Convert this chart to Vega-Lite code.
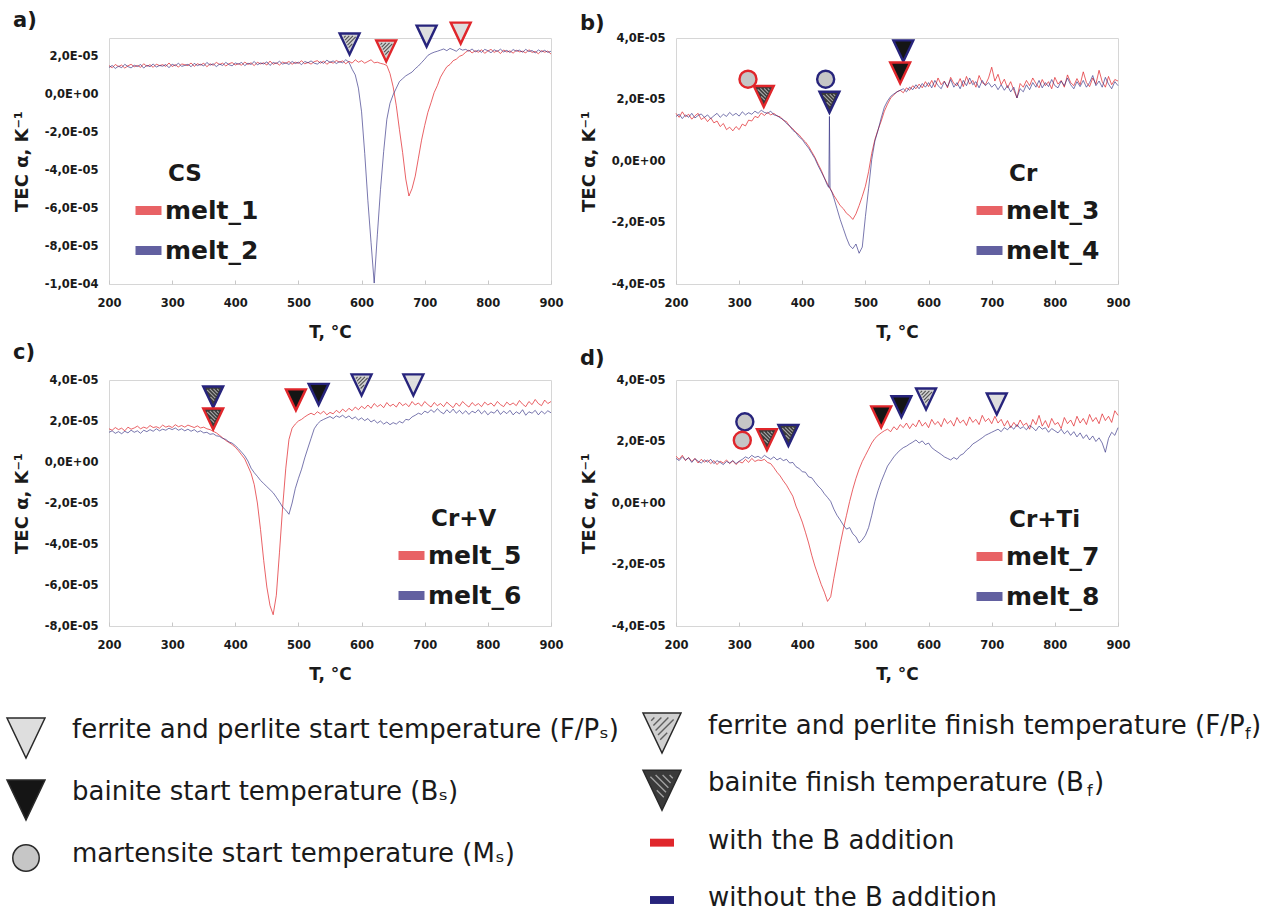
{
"$schema": "https://vega.github.io/schema/vega-lite/v6.json",
"padding": {"left": 4, "top": 9, "right": 0, "bottom": 0},
"background": "white",
"config": {
 "font": "DejaVu Sans",
 "view": {"stroke": "#d6d6d6", "strokeWidth": 1},
 "axis": {"grid": false, "domain": false, "labelFont": "DejaVu Sans", "labelFontSize": 11.5, "labelFontWeight": "bold", "labelColor": "#1a1a1a", "titleFont": "DejaVu Sans", "titleFontWeight": "bold", "titleColor": "#1a1a1a"},
 "axisY": {"ticks": false, "labelPadding": 11, "minExtent": 64, "maxExtent": 64, "titlePadding": 14, "titleFontSize": 18},
 "axisX": {"ticks": true, "tickSize": -4, "tickColor": "#c8c8c8", "labelFlush": false, "labelPadding": 17, "minExtent": 24, "maxExtent": 24, "titlePadding": 16, "titleFontSize": 17},
 "title": {"font": "DejaVu Sans", "fontSize": 21, "fontWeight": "bold", "anchor": "start", "frame": "bounds", "color": "#1a1a1a", "offset": 4},
 "legend": {"orient": "none", "titleFont": "DejaVu Sans", "titleFontSize": 23, "titleFontWeight": "bold", "titleColor": "#1a1a1a", "titlePadding": 7, "labelFont": "DejaVu Sans", "labelFontSize": 25, "labelFontWeight": "bold", "labelColor": "#1a1a1a", "symbolType": "stroke", "symbolSize": 676, "symbolStrokeWidth": 9, "labelOffset": -1, "symbolOffset": -37, "rowPadding": 3}
},
"datasets": {
"melt_1": [{"T":200,"v":1.54e-5},{"T":205,"v":1.43e-5},{"T":210,"v":1.60e-5},{"T":215,"v":1.49e-5},{"T":220,"v":1.57e-5},{"T":225,"v":1.41e-5},{"T":230,"v":1.53e-5},{"T":235,"v":1.61e-5},{"T":240,"v":1.48e-5},{"T":245,"v":1.55e-5},{"T":250,"v":1.45e-5},{"T":255,"v":1.64e-5},{"T":260,"v":1.50e-5},{"T":265,"v":1.59e-5},{"T":270,"v":1.45e-5},{"T":275,"v":1.62e-5},{"T":280,"v":1.54e-5},{"T":285,"v":1.59e-5},{"T":290,"v":1.50e-5},{"T":295,"v":1.68e-5},{"T":300,"v":1.49e-5},{"T":305,"v":1.59e-5},{"T":310,"v":1.46e-5},{"T":315,"v":1.63e-5},{"T":320,"v":1.59e-5},{"T":325,"v":1.54e-5},{"T":330,"v":1.68e-5},{"T":335,"v":1.50e-5},{"T":340,"v":1.64e-5},{"T":345,"v":1.57e-5},{"T":350,"v":1.67e-5},{"T":355,"v":1.48e-5},{"T":360,"v":1.64e-5},{"T":365,"v":1.56e-5},{"T":370,"v":1.71e-5},{"T":375,"v":1.60e-5},{"T":380,"v":1.67e-5},{"T":385,"v":1.52e-5},{"T":390,"v":1.64e-5},{"T":395,"v":1.70e-5},{"T":400,"v":1.57e-5},{"T":405,"v":1.64e-5},{"T":410,"v":1.56e-5},{"T":415,"v":1.73e-5},{"T":420,"v":1.60e-5},{"T":425,"v":1.69e-5},{"T":430,"v":1.54e-5},{"T":435,"v":1.72e-5},{"T":440,"v":1.63e-5},{"T":445,"v":1.69e-5},{"T":450,"v":1.57e-5},{"T":455,"v":1.78e-5},{"T":460,"v":1.61e-5},{"T":465,"v":1.69e-5},{"T":470,"v":1.57e-5},{"T":475,"v":1.73e-5},{"T":480,"v":1.66e-5},{"T":485,"v":1.76e-5},{"T":490,"v":1.61e-5},{"T":495,"v":1.72e-5},{"T":500,"v":1.66e-5},{"T":505,"v":1.80e-5},{"T":510,"v":1.63e-5},{"T":515,"v":1.71e-5},{"T":520,"v":1.62e-5},{"T":525,"v":1.75e-5},{"T":530,"v":1.80e-5},{"T":535,"v":1.67e-5},{"T":540,"v":1.78e-5},{"T":545,"v":1.61e-5},{"T":550,"v":1.74e-5},{"T":555,"v":1.67e-5},{"T":560,"v":1.81e-5},{"T":565,"v":1.72e-5},{"T":570,"v":1.79e-5},{"T":575,"v":1.64e-5},{"T":580,"v":1.77e-5},{"T":585,"v":1.67e-5},{"T":590,"v":1.85e-5},{"T":595,"v":1.72e-5},{"T":600,"v":1.80e-5},{"T":605,"v":1.67e-5},{"T":610,"v":1.76e-5},{"T":615,"v":1.85e-5},{"T":620,"v":1.69e-5},{"T":625,"v":1.72e-5},{"T":630,"v":1.66e-5},{"T":635,"v":1.62e-5},{"T":640,"v":1.55e-5},{"T":645,"v":1.12e-5},{"T":650,"v":0.42e-5},{"T":655,"v":-0.58e-5},{"T":660,"v":-1.85e-5},{"T":665,"v":-3.05e-5},{"T":670,"v":-4.45e-5},{"T":675,"v":-5.35e-5},{"T":680,"v":-4.95e-5},{"T":685,"v":-4.3e-5},{"T":690,"v":-3.35e-5},{"T":695,"v":-2.4e-5},{"T":700,"v":-1.62e-5},{"T":705,"v":-0.93e-5},{"T":710,"v":-0.42e-5},{"T":715,"v":0.12e-5},{"T":720,"v":0.48e-5},{"T":725,"v":0.93e-5},{"T":730,"v":1.22e-5},{"T":735,"v":1.48e-5},{"T":740,"v":1.6e-5},{"T":745,"v":1.8e-5},{"T":750,"v":1.88e-5},{"T":755,"v":2.03e-5},{"T":760,"v":2.1e-5},{"T":765,"v":2.25e-5},{"T":770,"v":2.36e-5},{"T":775,"v":2.21e-5},{"T":780,"v":2.33e-5},{"T":785,"v":2.25e-5},{"T":790,"v":2.38e-5},{"T":795,"v":2.19e-5},{"T":800,"v":2.31e-5},{"T":805,"v":2.40e-5},{"T":810,"v":2.24e-5},{"T":815,"v":2.33e-5},{"T":820,"v":2.18e-5},{"T":825,"v":2.37e-5},{"T":830,"v":2.26e-5},{"T":835,"v":2.32e-5},{"T":840,"v":2.20e-5},{"T":845,"v":2.35e-5},{"T":850,"v":2.27e-5},{"T":855,"v":2.30e-5},{"T":860,"v":2.21e-5},{"T":865,"v":2.38e-5},{"T":870,"v":2.24e-5},{"T":875,"v":2.29e-5},{"T":880,"v":2.17e-5},{"T":885,"v":2.33e-5},{"T":890,"v":2.25e-5},{"T":895,"v":2.31e-5},{"T":900,"v":2.15e-5}],
"melt_2": [{"T":200,"v":1.44e-5},{"T":205,"v":1.55e-5},{"T":210,"v":1.39e-5},{"T":215,"v":1.51e-5},{"T":220,"v":1.43e-5},{"T":225,"v":1.61e-5},{"T":230,"v":1.49e-5},{"T":235,"v":1.42e-5},{"T":240,"v":1.56e-5},{"T":245,"v":1.49e-5},{"T":250,"v":1.60e-5},{"T":255,"v":1.41e-5},{"T":260,"v":1.56e-5},{"T":265,"v":1.48e-5},{"T":270,"v":1.63e-5},{"T":275,"v":1.46e-5},{"T":280,"v":1.55e-5},{"T":285,"v":1.51e-5},{"T":290,"v":1.60e-5},{"T":295,"v":1.43e-5},{"T":300,"v":1.62e-5},{"T":305,"v":1.53e-5},{"T":310,"v":1.67e-5},{"T":315,"v":1.50e-5},{"T":320,"v":1.55e-5},{"T":325,"v":1.61e-5},{"T":330,"v":1.48e-5},{"T":335,"v":1.66e-5},{"T":340,"v":1.54e-5},{"T":345,"v":1.61e-5},{"T":350,"v":1.52e-5},{"T":355,"v":1.71e-5},{"T":360,"v":1.56e-5},{"T":365,"v":1.64e-5},{"T":370,"v":1.49e-5},{"T":375,"v":1.62e-5},{"T":380,"v":1.55e-5},{"T":385,"v":1.71e-5},{"T":390,"v":1.59e-5},{"T":395,"v":1.53e-5},{"T":400,"v":1.68e-5},{"T":405,"v":1.62e-5},{"T":410,"v":1.71e-5},{"T":415,"v":1.54e-5},{"T":420,"v":1.67e-5},{"T":425,"v":1.60e-5},{"T":430,"v":1.76e-5},{"T":435,"v":1.58e-5},{"T":440,"v":1.68e-5},{"T":445,"v":1.63e-5},{"T":450,"v":1.74e-5},{"T":455,"v":1.55e-5},{"T":460,"v":1.71e-5},{"T":465,"v":1.65e-5},{"T":470,"v":1.77e-5},{"T":475,"v":1.62e-5},{"T":480,"v":1.69e-5},{"T":485,"v":1.60e-5},{"T":490,"v":1.76e-5},{"T":495,"v":1.65e-5},{"T":500,"v":1.72e-5},{"T":505,"v":1.59e-5},{"T":510,"v":1.76e-5},{"T":515,"v":1.69e-5},{"T":520,"v":1.79e-5},{"T":525,"v":1.67e-5},{"T":530,"v":1.62e-5},{"T":535,"v":1.75e-5},{"T":540,"v":1.66e-5},{"T":545,"v":1.83e-5},{"T":550,"v":1.71e-5},{"T":555,"v":1.79e-5},{"T":560,"v":1.65e-5},{"T":565,"v":1.75e-5},{"T":570,"v":1.69e-5},{"T":575,"v":1.85e-5},{"T":580,"v":1.72e-5},{"T":585,"v":1.35e-5},{"T":590,"v":1.05e-5},{"T":595,"v":0.35e-5},{"T":600,"v":-0.9e-5},{"T":605,"v":-3.1e-5},{"T":610,"v":-5.6e-5},{"T":615,"v":-7.8e-5},{"T":620,"v":-9.95e-5},{"T":625,"v":-7.4e-5},{"T":630,"v":-5.0e-5},{"T":635,"v":-3.0e-5},{"T":640,"v":-1.3e-5},{"T":645,"v":-0.45e-5},{"T":650,"v":0.0},{"T":655,"v":0.35e-5},{"T":660,"v":0.7e-5},{"T":665,"v":0.85e-5},{"T":670,"v":1.0e-5},{"T":675,"v":1.1e-5},{"T":680,"v":1.2e-5},{"T":685,"v":1.38e-5},{"T":690,"v":1.52e-5},{"T":695,"v":1.70e-5},{"T":700,"v":1.88e-5},{"T":705,"v":2.08e-5},{"T":710,"v":2.18e-5},{"T":715,"v":2.25e-5},{"T":720,"v":2.30e-5},{"T":725,"v":2.36e-5},{"T":730,"v":2.42e-5},{"T":735,"v":2.33e-5},{"T":740,"v":2.45e-5},{"T":745,"v":2.38e-5},{"T":750,"v":2.30e-5},{"T":755,"v":2.44e-5},{"T":760,"v":2.36e-5},{"T":765,"v":2.40e-5},{"T":770,"v":2.30e-5},{"T":775,"v":2.42e-5},{"T":780,"v":2.27e-5},{"T":785,"v":2.36e-5},{"T":790,"v":2.24e-5},{"T":795,"v":2.40e-5},{"T":800,"v":2.33e-5},{"T":805,"v":2.22e-5},{"T":810,"v":2.38e-5},{"T":815,"v":2.29e-5},{"T":820,"v":2.41e-5},{"T":825,"v":2.26e-5},{"T":830,"v":2.35e-5},{"T":835,"v":2.23e-5},{"T":840,"v":2.39e-5},{"T":845,"v":2.30e-5},{"T":850,"v":2.36e-5},{"T":855,"v":2.25e-5},{"T":860,"v":2.40e-5},{"T":865,"v":2.28e-5},{"T":870,"v":2.34e-5},{"T":875,"v":2.21e-5},{"T":880,"v":2.37e-5},{"T":885,"v":2.27e-5},{"T":890,"v":2.35e-5},{"T":895,"v":2.24e-5},{"T":900,"v":2.30e-5}],
"melt_3": [{"T":200,"v":1.55e-5},{"T":205,"v":1.42e-5},{"T":210,"v":1.60e-5},{"T":215,"v":1.44e-5},{"T":220,"v":1.52e-5},{"T":225,"v":1.36e-5},{"T":230,"v":1.47e-5},{"T":235,"v":1.55e-5},{"T":240,"v":1.35e-5},{"T":245,"v":1.42e-5},{"T":250,"v":1.28e-5},{"T":255,"v":1.40e-5},{"T":260,"v":1.24e-5},{"T":265,"v":1.30e-5},{"T":270,"v":1.12e-5},{"T":275,"v":1.22e-5},{"T":280,"v":1.02e-5},{"T":285,"v":1.10e-5},{"T":290,"v":0.98e-5},{"T":295,"v":1.12e-5},{"T":300,"v":1.02e-5},{"T":305,"v":1.20e-5},{"T":310,"v":1.14e-5},{"T":315,"v":1.33e-5},{"T":320,"v":1.30e-5},{"T":325,"v":1.45e-5},{"T":330,"v":1.41e-5},{"T":335,"v":1.56e-5},{"T":340,"v":1.48e-5},{"T":345,"v":1.58e-5},{"T":350,"v":1.50e-5},{"T":355,"v":1.55e-5},{"T":360,"v":1.46e-5},{"T":365,"v":1.44e-5},{"T":370,"v":1.32e-5},{"T":375,"v":1.28e-5},{"T":380,"v":1.12e-5},{"T":385,"v":1.05e-5},{"T":390,"v":0.93e-5},{"T":395,"v":0.85e-5},{"T":400,"v":0.72e-5},{"T":405,"v":0.62e-5},{"T":410,"v":0.48e-5},{"T":415,"v":0.30e-5},{"T":420,"v":0.12e-5},{"T":425,"v":-0.10e-5},{"T":430,"v":-0.30e-5},{"T":435,"v":-0.55e-5},{"T":440,"v":-0.75e-5},{"T":445,"v":-0.92e-5},{"T":450,"v":-1.12e-5},{"T":455,"v":-1.28e-5},{"T":460,"v":-1.45e-5},{"T":465,"v":-1.55e-5},{"T":470,"v":-1.70e-5},{"T":475,"v":-1.78e-5},{"T":480,"v":-1.90e-5},{"T":485,"v":-1.72e-5},{"T":490,"v":-1.45e-5},{"T":495,"v":-1.15e-5},{"T":500,"v":-0.82e-5},{"T":505,"v":-0.35e-5},{"T":510,"v":0.25e-5},{"T":515,"v":0.70e-5},{"T":520,"v":1.02e-5},{"T":525,"v":1.30e-5},{"T":530,"v":1.62e-5},{"T":535,"v":1.85e-5},{"T":540,"v":2.05e-5},{"T":545,"v":2.15e-5},{"T":550,"v":2.25e-5},{"T":555,"v":2.30e-5},{"T":560,"v":2.22e-5},{"T":565,"v":2.38e-5},{"T":570,"v":2.30e-5},{"T":575,"v":2.45e-5},{"T":580,"v":2.35e-5},{"T":585,"v":2.50e-5},{"T":590,"v":2.38e-5},{"T":595,"v":2.58e-5},{"T":600,"v":2.42e-5},{"T":605,"v":2.62e-5},{"T":610,"v":2.40e-5},{"T":615,"v":2.70e-5},{"T":620,"v":2.48e-5},{"T":625,"v":2.60e-5},{"T":630,"v":2.38e-5},{"T":635,"v":2.72e-5},{"T":640,"v":2.52e-5},{"T":645,"v":2.45e-5},{"T":650,"v":2.68e-5},{"T":655,"v":2.42e-5},{"T":660,"v":2.75e-5},{"T":665,"v":2.50e-5},{"T":670,"v":2.62e-5},{"T":675,"v":2.40e-5},{"T":680,"v":2.78e-5},{"T":685,"v":2.55e-5},{"T":690,"v":2.48e-5},{"T":695,"v":2.70e-5},{"T":700,"v":3.05e-5},{"T":705,"v":2.60e-5},{"T":710,"v":2.82e-5},{"T":715,"v":2.48e-5},{"T":720,"v":2.66e-5},{"T":725,"v":2.38e-5},{"T":730,"v":2.58e-5},{"T":735,"v":2.30e-5},{"T":740,"v":2.05e-5},{"T":745,"v":2.52e-5},{"T":750,"v":2.40e-5},{"T":755,"v":2.62e-5},{"T":760,"v":2.45e-5},{"T":765,"v":2.70e-5},{"T":770,"v":2.52e-5},{"T":775,"v":2.38e-5},{"T":780,"v":2.65e-5},{"T":785,"v":2.45e-5},{"T":790,"v":2.58e-5},{"T":795,"v":2.35e-5},{"T":800,"v":2.72e-5},{"T":805,"v":2.50e-5},{"T":810,"v":2.62e-5},{"T":815,"v":2.40e-5},{"T":820,"v":2.80e-5},{"T":825,"v":2.55e-5},{"T":830,"v":2.45e-5},{"T":835,"v":2.68e-5},{"T":840,"v":2.48e-5},{"T":845,"v":2.90e-5},{"T":850,"v":2.55e-5},{"T":855,"v":2.42e-5},{"T":860,"v":2.70e-5},{"T":865,"v":2.50e-5},{"T":870,"v":2.95e-5},{"T":875,"v":2.58e-5},{"T":880,"v":2.40e-5},{"T":885,"v":2.75e-5},{"T":890,"v":2.48e-5},{"T":895,"v":2.65e-5},{"T":900,"v":2.60e-5}],
"melt_4": [{"T":200,"v":1.45e-5},{"T":205,"v":1.52e-5},{"T":210,"v":1.38e-5},{"T":215,"v":1.50e-5},{"T":220,"v":1.42e-5},{"T":225,"v":1.55e-5},{"T":230,"v":1.40e-5},{"T":235,"v":1.48e-5},{"T":240,"v":1.53e-5},{"T":245,"v":1.42e-5},{"T":250,"v":1.50e-5},{"T":255,"v":1.38e-5},{"T":260,"v":1.47e-5},{"T":265,"v":1.55e-5},{"T":270,"v":1.42e-5},{"T":275,"v":1.52e-5},{"T":280,"v":1.45e-5},{"T":285,"v":1.58e-5},{"T":290,"v":1.48e-5},{"T":295,"v":1.55e-5},{"T":300,"v":1.46e-5},{"T":305,"v":1.60e-5},{"T":310,"v":1.50e-5},{"T":315,"v":1.57e-5},{"T":320,"v":1.52e-5},{"T":325,"v":1.62e-5},{"T":330,"v":1.55e-5},{"T":335,"v":1.65e-5},{"T":340,"v":1.58e-5},{"T":345,"v":1.55e-5},{"T":350,"v":1.62e-5},{"T":355,"v":1.50e-5},{"T":360,"v":1.48e-5},{"T":365,"v":1.40e-5},{"T":370,"v":1.35e-5},{"T":375,"v":1.22e-5},{"T":380,"v":1.15e-5},{"T":385,"v":1.00e-5},{"T":390,"v":0.92e-5},{"T":395,"v":0.78e-5},{"T":400,"v":0.70e-5},{"T":405,"v":0.55e-5},{"T":410,"v":0.42e-5},{"T":415,"v":0.25e-5},{"T":420,"v":0.08e-5},{"T":425,"v":-0.15e-5},{"T":430,"v":-0.35e-5},{"T":435,"v":-0.55e-5},{"T":440,"v":-0.80e-5},{"T":442,"v":-0.86e-5},{"T":443,"v":1.45e-5},{"T":444,"v":-0.90e-5},{"T":447,"v":-1.02e-5},{"T":450,"v":-1.20e-5},{"T":455,"v":-1.55e-5},{"T":460,"v":-1.90e-5},{"T":465,"v":-2.20e-5},{"T":470,"v":-2.50e-5},{"T":475,"v":-2.75e-5},{"T":480,"v":-2.85e-5},{"T":485,"v":-2.70e-5},{"T":490,"v":-3.00e-5},{"T":495,"v":-2.80e-5},{"T":500,"v":-1.80e-5},{"T":505,"v":-0.90e-5},{"T":510,"v":0.05e-5},{"T":515,"v":0.65e-5},{"T":520,"v":1.00e-5},{"T":525,"v":1.40e-5},{"T":530,"v":1.75e-5},{"T":535,"v":1.95e-5},{"T":540,"v":2.10e-5},{"T":545,"v":2.18e-5},{"T":550,"v":2.25e-5},{"T":555,"v":2.30e-5},{"T":560,"v":2.35e-5},{"T":565,"v":2.25e-5},{"T":570,"v":2.40e-5},{"T":575,"v":2.32e-5},{"T":580,"v":2.48e-5},{"T":585,"v":2.35e-5},{"T":590,"v":2.52e-5},{"T":595,"v":2.40e-5},{"T":600,"v":2.55e-5},{"T":605,"v":2.38e-5},{"T":610,"v":2.62e-5},{"T":615,"v":2.45e-5},{"T":620,"v":2.35e-5},{"T":625,"v":2.58e-5},{"T":630,"v":2.42e-5},{"T":635,"v":2.65e-5},{"T":640,"v":2.40e-5},{"T":645,"v":2.55e-5},{"T":650,"v":2.35e-5},{"T":655,"v":2.62e-5},{"T":660,"v":2.45e-5},{"T":665,"v":2.70e-5},{"T":670,"v":2.48e-5},{"T":675,"v":2.58e-5},{"T":680,"v":2.38e-5},{"T":685,"v":2.62e-5},{"T":690,"v":2.45e-5},{"T":695,"v":2.55e-5},{"T":700,"v":2.40e-5},{"T":705,"v":2.50e-5},{"T":710,"v":2.32e-5},{"T":715,"v":2.48e-5},{"T":720,"v":2.30e-5},{"T":725,"v":2.45e-5},{"T":730,"v":2.25e-5},{"T":735,"v":2.40e-5},{"T":740,"v":2.05e-5},{"T":745,"v":2.35e-5},{"T":750,"v":2.25e-5},{"T":755,"v":2.48e-5},{"T":760,"v":2.32e-5},{"T":765,"v":2.55e-5},{"T":770,"v":2.40e-5},{"T":775,"v":2.62e-5},{"T":780,"v":2.38e-5},{"T":785,"v":2.55e-5},{"T":790,"v":2.42e-5},{"T":795,"v":2.65e-5},{"T":800,"v":2.45e-5},{"T":805,"v":2.38e-5},{"T":810,"v":2.60e-5},{"T":815,"v":2.45e-5},{"T":820,"v":2.70e-5},{"T":825,"v":2.48e-5},{"T":830,"v":2.35e-5},{"T":835,"v":2.58e-5},{"T":840,"v":2.42e-5},{"T":845,"v":2.62e-5},{"T":850,"v":2.40e-5},{"T":855,"v":2.55e-5},{"T":860,"v":2.78e-5},{"T":865,"v":2.45e-5},{"T":870,"v":2.60e-5},{"T":875,"v":2.40e-5},{"T":880,"v":2.72e-5},{"T":885,"v":2.50e-5},{"T":890,"v":2.35e-5},{"T":895,"v":2.58e-5},{"T":900,"v":2.45e-5}],
"melt_5": [{"T":200,"v":1.62e-5},{"T":205,"v":1.55e-5},{"T":210,"v":1.68e-5},{"T":215,"v":1.58e-5},{"T":220,"v":1.65e-5},{"T":225,"v":1.52e-5},{"T":230,"v":1.70e-5},{"T":235,"v":1.60e-5},{"T":240,"v":1.66e-5},{"T":245,"v":1.75e-5},{"T":250,"v":1.62e-5},{"T":255,"v":1.70e-5},{"T":260,"v":1.64e-5},{"T":265,"v":1.78e-5},{"T":270,"v":1.68e-5},{"T":275,"v":1.72e-5},{"T":280,"v":1.65e-5},{"T":285,"v":1.80e-5},{"T":290,"v":1.70e-5},{"T":295,"v":1.76e-5},{"T":300,"v":1.68e-5},{"T":305,"v":1.82e-5},{"T":310,"v":1.72e-5},{"T":315,"v":1.78e-5},{"T":320,"v":1.70e-5},{"T":325,"v":1.80e-5},{"T":330,"v":1.74e-5},{"T":335,"v":1.68e-5},{"T":340,"v":1.76e-5},{"T":345,"v":1.66e-5},{"T":350,"v":1.70e-5},{"T":355,"v":1.62e-5},{"T":360,"v":1.58e-5},{"T":365,"v":1.50e-5},{"T":370,"v":1.42e-5},{"T":375,"v":1.30e-5},{"T":380,"v":1.18e-5},{"T":385,"v":1.05e-5},{"T":390,"v":0.95e-5},{"T":395,"v":0.85e-5},{"T":400,"v":0.72e-5},{"T":405,"v":0.55e-5},{"T":410,"v":0.35e-5},{"T":415,"v":0.15e-5},{"T":420,"v":-0.20e-5},{"T":425,"v":-0.55e-5},{"T":430,"v":-1.10e-5},{"T":435,"v":-2.00e-5},{"T":440,"v":-3.30e-5},{"T":445,"v":-4.80e-5},{"T":450,"v":-6.10e-5},{"T":455,"v":-7.00e-5},{"T":460,"v":-7.45e-5},{"T":465,"v":-6.50e-5},{"T":470,"v":-4.40e-5},{"T":475,"v":-2.20e-5},{"T":480,"v":-0.30e-5},{"T":485,"v":1.10e-5},{"T":490,"v":1.65e-5},{"T":495,"v":1.85e-5},{"T":500,"v":2.00e-5},{"T":505,"v":2.08e-5},{"T":510,"v":2.20e-5},{"T":515,"v":2.30e-5},{"T":520,"v":2.38e-5},{"T":525,"v":2.30e-5},{"T":530,"v":2.45e-5},{"T":535,"v":2.35e-5},{"T":540,"v":2.48e-5},{"T":545,"v":2.30e-5},{"T":550,"v":2.42e-5},{"T":555,"v":2.35e-5},{"T":560,"v":2.52e-5},{"T":565,"v":2.40e-5},{"T":570,"v":2.58e-5},{"T":575,"v":2.45e-5},{"T":580,"v":2.62e-5},{"T":585,"v":2.50e-5},{"T":590,"v":2.68e-5},{"T":595,"v":2.55e-5},{"T":600,"v":2.72e-5},{"T":605,"v":2.60e-5},{"T":610,"v":2.78e-5},{"T":615,"v":2.62e-5},{"T":620,"v":2.85e-5},{"T":625,"v":2.70e-5},{"T":630,"v":2.80e-5},{"T":635,"v":2.65e-5},{"T":640,"v":2.90e-5},{"T":645,"v":2.72e-5},{"T":650,"v":2.82e-5},{"T":655,"v":2.68e-5},{"T":660,"v":2.92e-5},{"T":665,"v":2.75e-5},{"T":670,"v":2.85e-5},{"T":675,"v":2.70e-5},{"T":680,"v":2.95e-5},{"T":685,"v":2.78e-5},{"T":690,"v":2.88e-5},{"T":695,"v":2.72e-5},{"T":700,"v":2.95e-5},{"T":705,"v":2.80e-5},{"T":710,"v":2.68e-5},{"T":715,"v":2.90e-5},{"T":720,"v":2.75e-5},{"T":725,"v":2.85e-5},{"T":730,"v":2.70e-5},{"T":735,"v":2.92e-5},{"T":740,"v":2.78e-5},{"T":745,"v":2.65e-5},{"T":750,"v":2.88e-5},{"T":755,"v":2.72e-5},{"T":760,"v":2.95e-5},{"T":765,"v":2.80e-5},{"T":770,"v":2.68e-5},{"T":775,"v":2.90e-5},{"T":780,"v":2.75e-5},{"T":785,"v":2.85e-5},{"T":790,"v":2.70e-5},{"T":795,"v":2.92e-5},{"T":800,"v":2.78e-5},{"T":805,"v":2.88e-5},{"T":810,"v":2.72e-5},{"T":815,"v":2.95e-5},{"T":820,"v":2.80e-5},{"T":825,"v":2.70e-5},{"T":830,"v":2.92e-5},{"T":835,"v":2.78e-5},{"T":840,"v":2.88e-5},{"T":845,"v":2.75e-5},{"T":850,"v":3.00e-5},{"T":855,"v":2.82e-5},{"T":860,"v":2.70e-5},{"T":865,"v":2.95e-5},{"T":870,"v":2.80e-5},{"T":875,"v":3.05e-5},{"T":880,"v":2.85e-5},{"T":885,"v":2.75e-5},{"T":890,"v":3.02e-5},{"T":895,"v":2.85e-5},{"T":900,"v":2.95e-5}],
"melt_6": [{"T":200,"v":1.45e-5},{"T":205,"v":1.52e-5},{"T":210,"v":1.40e-5},{"T":215,"v":1.48e-5},{"T":220,"v":1.38e-5},{"T":225,"v":1.50e-5},{"T":230,"v":1.42e-5},{"T":235,"v":1.55e-5},{"T":240,"v":1.45e-5},{"T":245,"v":1.52e-5},{"T":250,"v":1.40e-5},{"T":255,"v":1.55e-5},{"T":260,"v":1.48e-5},{"T":265,"v":1.58e-5},{"T":270,"v":1.50e-5},{"T":275,"v":1.62e-5},{"T":280,"v":1.52e-5},{"T":285,"v":1.60e-5},{"T":290,"v":1.55e-5},{"T":295,"v":1.65e-5},{"T":300,"v":1.58e-5},{"T":305,"v":1.66e-5},{"T":310,"v":1.55e-5},{"T":315,"v":1.62e-5},{"T":320,"v":1.52e-5},{"T":325,"v":1.60e-5},{"T":330,"v":1.50e-5},{"T":335,"v":1.58e-5},{"T":340,"v":1.46e-5},{"T":345,"v":1.52e-5},{"T":350,"v":1.42e-5},{"T":355,"v":1.45e-5},{"T":360,"v":1.35e-5},{"T":365,"v":1.38e-5},{"T":370,"v":1.28e-5},{"T":375,"v":1.25e-5},{"T":380,"v":1.15e-5},{"T":385,"v":1.10e-5},{"T":390,"v":0.98e-5},{"T":395,"v":0.92e-5},{"T":400,"v":0.80e-5},{"T":405,"v":0.65e-5},{"T":410,"v":0.48e-5},{"T":415,"v":0.30e-5},{"T":420,"v":0.05e-5},{"T":425,"v":-0.30e-5},{"T":430,"v":-0.52e-5},{"T":435,"v":-0.70e-5},{"T":440,"v":-0.90e-5},{"T":445,"v":-1.05e-5},{"T":450,"v":-1.20e-5},{"T":455,"v":-1.35e-5},{"T":460,"v":-1.50e-5},{"T":465,"v":-1.72e-5},{"T":470,"v":-1.95e-5},{"T":475,"v":-2.20e-5},{"T":480,"v":-2.35e-5},{"T":485,"v":-2.55e-5},{"T":490,"v":-2.00e-5},{"T":495,"v":-1.30e-5},{"T":500,"v":-0.80e-5},{"T":505,"v":-0.35e-5},{"T":510,"v":0.20e-5},{"T":515,"v":0.68e-5},{"T":520,"v":1.15e-5},{"T":525,"v":1.62e-5},{"T":530,"v":1.85e-5},{"T":535,"v":2.00e-5},{"T":540,"v":2.08e-5},{"T":545,"v":2.15e-5},{"T":550,"v":2.22e-5},{"T":555,"v":2.12e-5},{"T":560,"v":2.25e-5},{"T":565,"v":2.18e-5},{"T":570,"v":2.28e-5},{"T":575,"v":2.15e-5},{"T":580,"v":2.25e-5},{"T":585,"v":2.10e-5},{"T":590,"v":2.20e-5},{"T":595,"v":2.05e-5},{"T":600,"v":2.15e-5},{"T":605,"v":2.02e-5},{"T":610,"v":2.12e-5},{"T":615,"v":1.95e-5},{"T":620,"v":2.05e-5},{"T":625,"v":1.90e-5},{"T":630,"v":2.00e-5},{"T":635,"v":1.85e-5},{"T":640,"v":1.95e-5},{"T":645,"v":1.82e-5},{"T":650,"v":1.92e-5},{"T":655,"v":1.85e-5},{"T":660,"v":1.98e-5},{"T":665,"v":1.90e-5},{"T":670,"v":2.08e-5},{"T":675,"v":2.05e-5},{"T":680,"v":2.20e-5},{"T":685,"v":2.28e-5},{"T":690,"v":2.38e-5},{"T":695,"v":2.32e-5},{"T":700,"v":2.48e-5},{"T":705,"v":2.40e-5},{"T":710,"v":2.55e-5},{"T":715,"v":2.42e-5},{"T":720,"v":2.60e-5},{"T":725,"v":2.45e-5},{"T":730,"v":2.35e-5},{"T":735,"v":2.55e-5},{"T":740,"v":2.40e-5},{"T":745,"v":2.58e-5},{"T":750,"v":2.38e-5},{"T":755,"v":2.52e-5},{"T":760,"v":2.35e-5},{"T":765,"v":2.50e-5},{"T":770,"v":2.32e-5},{"T":775,"v":2.48e-5},{"T":780,"v":2.40e-5},{"T":785,"v":2.55e-5},{"T":790,"v":2.35e-5},{"T":795,"v":2.50e-5},{"T":800,"v":2.30e-5},{"T":805,"v":2.45e-5},{"T":810,"v":2.38e-5},{"T":815,"v":2.55e-5},{"T":820,"v":2.32e-5},{"T":825,"v":2.48e-5},{"T":830,"v":2.36e-5},{"T":835,"v":2.52e-5},{"T":840,"v":2.30e-5},{"T":845,"v":2.45e-5},{"T":850,"v":2.35e-5},{"T":855,"v":2.55e-5},{"T":860,"v":2.28e-5},{"T":865,"v":2.45e-5},{"T":870,"v":2.38e-5},{"T":875,"v":2.52e-5},{"T":880,"v":2.30e-5},{"T":885,"v":2.48e-5},{"T":890,"v":2.35e-5},{"T":895,"v":2.50e-5},{"T":900,"v":2.40e-5}],
"melt_7": [{"T":200,"v":1.52e-5},{"T":205,"v":1.42e-5},{"T":210,"v":1.55e-5},{"T":215,"v":1.38e-5},{"T":220,"v":1.48e-5},{"T":225,"v":1.35e-5},{"T":230,"v":1.45e-5},{"T":235,"v":1.30e-5},{"T":240,"v":1.42e-5},{"T":245,"v":1.33e-5},{"T":250,"v":1.40e-5},{"T":255,"v":1.28e-5},{"T":260,"v":1.38e-5},{"T":265,"v":1.25e-5},{"T":270,"v":1.36e-5},{"T":275,"v":1.30e-5},{"T":280,"v":1.40e-5},{"T":285,"v":1.28e-5},{"T":290,"v":1.37e-5},{"T":295,"v":1.25e-5},{"T":300,"v":1.35e-5},{"T":305,"v":1.30e-5},{"T":310,"v":1.42e-5},{"T":315,"v":1.32e-5},{"T":320,"v":1.45e-5},{"T":325,"v":1.35e-5},{"T":330,"v":1.40e-5},{"T":335,"v":1.38e-5},{"T":340,"v":1.42e-5},{"T":345,"v":1.32e-5},{"T":350,"v":1.28e-5},{"T":355,"v":1.15e-5},{"T":360,"v":1.00e-5},{"T":365,"v":0.88e-5},{"T":370,"v":0.72e-5},{"T":375,"v":0.58e-5},{"T":380,"v":0.40e-5},{"T":385,"v":0.22e-5},{"T":390,"v":-0.10e-5},{"T":395,"v":-0.35e-5},{"T":400,"v":-0.62e-5},{"T":405,"v":-0.95e-5},{"T":410,"v":-1.30e-5},{"T":415,"v":-1.70e-5},{"T":420,"v":-2.05e-5},{"T":425,"v":-2.35e-5},{"T":430,"v":-2.65e-5},{"T":435,"v":-2.90e-5},{"T":440,"v":-3.20e-5},{"T":445,"v":-3.05e-5},{"T":450,"v":-2.45e-5},{"T":455,"v":-1.90e-5},{"T":460,"v":-1.35e-5},{"T":465,"v":-0.85e-5},{"T":470,"v":-0.40e-5},{"T":475,"v":0.05e-5},{"T":480,"v":0.45e-5},{"T":485,"v":0.80e-5},{"T":490,"v":1.10e-5},{"T":495,"v":1.35e-5},{"T":500,"v":1.55e-5},{"T":505,"v":1.75e-5},{"T":510,"v":1.95e-5},{"T":515,"v":2.10e-5},{"T":520,"v":2.20e-5},{"T":525,"v":2.28e-5},{"T":530,"v":2.35e-5},{"T":535,"v":2.40e-5},{"T":540,"v":2.32e-5},{"T":545,"v":2.48e-5},{"T":550,"v":2.38e-5},{"T":555,"v":2.55e-5},{"T":560,"v":2.45e-5},{"T":565,"v":2.60e-5},{"T":570,"v":2.42e-5},{"T":575,"v":2.58e-5},{"T":580,"v":2.48e-5},{"T":585,"v":2.70e-5},{"T":590,"v":2.50e-5},{"T":595,"v":2.62e-5},{"T":600,"v":2.45e-5},{"T":605,"v":2.72e-5},{"T":610,"v":2.55e-5},{"T":615,"v":2.65e-5},{"T":620,"v":2.48e-5},{"T":625,"v":2.75e-5},{"T":630,"v":2.58e-5},{"T":635,"v":2.68e-5},{"T":640,"v":2.50e-5},{"T":645,"v":2.78e-5},{"T":650,"v":2.60e-5},{"T":655,"v":2.70e-5},{"T":660,"v":2.52e-5},{"T":665,"v":2.80e-5},{"T":670,"v":2.62e-5},{"T":675,"v":2.72e-5},{"T":680,"v":2.55e-5},{"T":685,"v":2.85e-5},{"T":690,"v":2.65e-5},{"T":695,"v":2.75e-5},{"T":700,"v":2.58e-5},{"T":705,"v":2.82e-5},{"T":710,"v":2.60e-5},{"T":715,"v":2.72e-5},{"T":720,"v":2.50e-5},{"T":725,"v":2.68e-5},{"T":730,"v":2.45e-5},{"T":735,"v":2.62e-5},{"T":740,"v":2.48e-5},{"T":745,"v":2.70e-5},{"T":750,"v":2.52e-5},{"T":755,"v":2.60e-5},{"T":760,"v":2.40e-5},{"T":765,"v":2.72e-5},{"T":770,"v":2.55e-5},{"T":775,"v":2.85e-5},{"T":780,"v":2.50e-5},{"T":785,"v":2.68e-5},{"T":790,"v":2.45e-5},{"T":795,"v":2.75e-5},{"T":800,"v":2.55e-5},{"T":805,"v":2.62e-5},{"T":810,"v":2.42e-5},{"T":815,"v":2.78e-5},{"T":820,"v":2.58e-5},{"T":825,"v":2.70e-5},{"T":830,"v":2.50e-5},{"T":835,"v":2.82e-5},{"T":840,"v":2.60e-5},{"T":845,"v":2.75e-5},{"T":850,"v":2.55e-5},{"T":855,"v":2.88e-5},{"T":860,"v":2.65e-5},{"T":865,"v":2.78e-5},{"T":870,"v":2.58e-5},{"T":875,"v":2.90e-5},{"T":880,"v":2.68e-5},{"T":885,"v":2.82e-5},{"T":890,"v":2.62e-5},{"T":895,"v":3.00e-5},{"T":900,"v":2.85e-5}],
"melt_8": [{"T":200,"v":1.45e-5},{"T":205,"v":1.38e-5},{"T":210,"v":1.50e-5},{"T":215,"v":1.40e-5},{"T":220,"v":1.47e-5},{"T":225,"v":1.32e-5},{"T":230,"v":1.44e-5},{"T":235,"v":1.36e-5},{"T":240,"v":1.30e-5},{"T":245,"v":1.40e-5},{"T":250,"v":1.33e-5},{"T":255,"v":1.42e-5},{"T":260,"v":1.28e-5},{"T":265,"v":1.38e-5},{"T":270,"v":1.32e-5},{"T":275,"v":1.25e-5},{"T":280,"v":1.35e-5},{"T":285,"v":1.30e-5},{"T":290,"v":1.38e-5},{"T":295,"v":1.28e-5},{"T":300,"v":1.36e-5},{"T":305,"v":1.42e-5},{"T":310,"v":1.50e-5},{"T":315,"v":1.45e-5},{"T":320,"v":1.55e-5},{"T":325,"v":1.48e-5},{"T":330,"v":1.52e-5},{"T":335,"v":1.45e-5},{"T":340,"v":1.55e-5},{"T":345,"v":1.48e-5},{"T":350,"v":1.42e-5},{"T":355,"v":1.50e-5},{"T":360,"v":1.40e-5},{"T":365,"v":1.46e-5},{"T":370,"v":1.38e-5},{"T":375,"v":1.42e-5},{"T":380,"v":1.30e-5},{"T":385,"v":1.32e-5},{"T":390,"v":1.18e-5},{"T":395,"v":1.12e-5},{"T":400,"v":1.02e-5},{"T":405,"v":1.00e-5},{"T":410,"v":0.85e-5},{"T":415,"v":0.82e-5},{"T":420,"v":0.68e-5},{"T":425,"v":0.55e-5},{"T":430,"v":0.45e-5},{"T":435,"v":0.30e-5},{"T":440,"v":0.18e-5},{"T":445,"v":0.05e-5},{"T":450,"v":-0.20e-5},{"T":455,"v":-0.40e-5},{"T":460,"v":-0.55e-5},{"T":465,"v":-0.72e-5},{"T":470,"v":-0.85e-5},{"T":475,"v":-0.80e-5},{"T":480,"v":-1.00e-5},{"T":485,"v":-1.10e-5},{"T":490,"v":-1.30e-5},{"T":495,"v":-1.20e-5},{"T":500,"v":-1.05e-5},{"T":505,"v":-0.80e-5},{"T":510,"v":-0.40e-5},{"T":515,"v":0.05e-5},{"T":520,"v":0.40e-5},{"T":525,"v":0.70e-5},{"T":530,"v":0.95e-5},{"T":535,"v":1.20e-5},{"T":540,"v":1.35e-5},{"T":545,"v":1.50e-5},{"T":550,"v":1.62e-5},{"T":555,"v":1.72e-5},{"T":560,"v":1.80e-5},{"T":565,"v":1.85e-5},{"T":570,"v":1.92e-5},{"T":575,"v":1.98e-5},{"T":580,"v":2.05e-5},{"T":585,"v":1.95e-5},{"T":590,"v":2.02e-5},{"T":595,"v":1.90e-5},{"T":600,"v":1.95e-5},{"T":605,"v":1.80e-5},{"T":610,"v":1.72e-5},{"T":615,"v":1.65e-5},{"T":620,"v":1.58e-5},{"T":625,"v":1.50e-5},{"T":630,"v":1.45e-5},{"T":635,"v":1.40e-5},{"T":640,"v":1.48e-5},{"T":645,"v":1.42e-5},{"T":650,"v":1.55e-5},{"T":655,"v":1.60e-5},{"T":660,"v":1.72e-5},{"T":665,"v":1.80e-5},{"T":670,"v":1.92e-5},{"T":675,"v":1.98e-5},{"T":680,"v":2.05e-5},{"T":685,"v":2.12e-5},{"T":690,"v":2.20e-5},{"T":695,"v":2.25e-5},{"T":700,"v":2.30e-5},{"T":705,"v":2.35e-5},{"T":710,"v":2.40e-5},{"T":715,"v":2.32e-5},{"T":720,"v":2.45e-5},{"T":725,"v":2.38e-5},{"T":730,"v":2.50e-5},{"T":735,"v":2.40e-5},{"T":740,"v":2.55e-5},{"T":745,"v":2.42e-5},{"T":750,"v":2.48e-5},{"T":755,"v":2.38e-5},{"T":760,"v":2.52e-5},{"T":765,"v":2.45e-5},{"T":770,"v":2.35e-5},{"T":775,"v":2.50e-5},{"T":780,"v":2.40e-5},{"T":785,"v":2.45e-5},{"T":790,"v":2.30e-5},{"T":795,"v":2.42e-5},{"T":800,"v":2.35e-5},{"T":805,"v":2.28e-5},{"T":810,"v":2.40e-5},{"T":815,"v":2.25e-5},{"T":820,"v":2.35e-5},{"T":825,"v":2.20e-5},{"T":830,"v":2.32e-5},{"T":835,"v":2.15e-5},{"T":840,"v":2.28e-5},{"T":845,"v":2.10e-5},{"T":850,"v":2.22e-5},{"T":855,"v":2.05e-5},{"T":860,"v":2.18e-5},{"T":865,"v":2.00e-5},{"T":870,"v":2.12e-5},{"T":875,"v":1.95e-5},{"T":880,"v":1.65e-5},{"T":885,"v":2.10e-5},{"T":890,"v":2.30e-5},{"T":895,"v":2.20e-5},{"T":900,"v":2.45e-5}],
"markers": [
 {"p":"a","m":"melt_2","k":"FPf","T":581,"v":2.68e-5},{"p":"a","m":"melt_1","k":"FPf","T":639,"v":2.31e-5},{"p":"a","m":"melt_2","k":"FPs","T":703,"v":3.1e-5},{"p":"a","m":"melt_1","k":"FPs","T":757,"v":3.26e-5},
 {"p":"b","m":"melt_3","k":"Ms","T":314,"v":2.66e-5},{"p":"b","m":"melt_3","k":"Bf","T":339,"v":2.1e-5},{"p":"b","m":"melt_4","k":"Ms","T":437,"v":2.66e-5},{"p":"b","m":"melt_4","k":"Bf","T":443,"v":1.91e-5},{"p":"b","m":"melt_4","k":"Bs","T":560,"v":3.58e-5},{"p":"b","m":"melt_3","k":"Bs","T":555,"v":2.86e-5},
 {"p":"c","m":"melt_6","k":"Bf","T":365,"v":3.17e-5},{"p":"c","m":"melt_5","k":"Bf","T":365,"v":2.1e-5},{"p":"c","m":"melt_5","k":"Bs","T":496,"v":3.03e-5},{"p":"c","m":"melt_6","k":"Bs","T":532,"v":3.3e-5},{"p":"c","m":"melt_6","k":"FPf","T":600,"v":3.76e-5},{"p":"c","m":"melt_6","k":"FPs","T":682,"v":3.76e-5},
 {"p":"d","m":"melt_8","k":"Ms","T":309,"v":2.64e-5},{"p":"d","m":"melt_7","k":"Ms","T":305,"v":2.04e-5},{"p":"d","m":"melt_7","k":"Bf","T":344,"v":2.06e-5},{"p":"d","m":"melt_8","k":"Bf","T":378,"v":2.2e-5},{"p":"d","m":"melt_7","k":"Bs","T":525,"v":2.8e-5},{"p":"d","m":"melt_8","k":"Bs","T":557,"v":3.13e-5},{"p":"d","m":"melt_8","k":"FPf","T":596,"v":3.38e-5},{"p":"d","m":"melt_8","k":"FPs","T":708,"v":3.22e-5}
],
"legend": [
 {"col":"L","row":1,"k":"FPs","label":"ferrite and perlite start temperature (F/Pₛ)"},
 {"col":"L","row":2,"k":"Bs","label":"bainite start temperature (Bₛ)"},
 {"col":"L","row":3,"k":"Ms","label":"martensite start temperature (Mₛ)"},
 {"col":"R","row":1,"k":"FPf","label":"ferrite and perlite finish temperature (F/P","sub":"f"},
 {"col":"R","row":2,"k":"Bf","label":"bainite finish temperature (B","sub":"f"},
 {"col":"R","row":3,"k":"withB","label":"with the B addition"},
 {"col":"R","row":4,"k":"withoutB","label":"without the B addition"}
]
},
"resolve": {"scale": {"fill": "independent", "stroke": "independent", "color": "independent"}},
"spacing": 6,
"vconcat": [
{
 "columns": 2,
 "spacing": {"row": 0, "column": 15},
 "resolve": {"scale": {"color": "independent", "fill": "independent", "stroke": "independent"}, "legend": {"color": "independent"}},
 "concat": [
 {
  "width": 442, "height": 246,
  "title": {"text": "a)", "dy": 17},
  "layer": [
   {"data": {"name": "melt_1"}, "mark": {"type": "line", "strokeWidth": 1, "opacity": 0.72},
    "encoding": {
     "x": {"field": "T", "type": "quantitative", "scale": {"domain": [200, 900], "nice": false}, "axis": {"values": [200,250,300,350,400,450,500,550,600,650,700,750,800,850,900], "labelExpr": "datum.value % 100 == 0 ? datum.label : ''", "title": "T, °C"}},
     "y": {"field": "v", "type": "quantitative", "scale": {"domain": [-1e-4, 3e-5], "nice": false, "zero": false}, "axis": {"values": [-1e-4, -8e-5, -6e-5, -4e-5, -2e-5, 0, 2e-5], "labelExpr": "replace(replace(replace(format(datum.value, '.1e'), regexp('−', 'g'), '-'), '.', ','), regexp('e([+-])([0-9])$'), 'E$10$2')", "title": "TEC α, K⁻¹"}},
     "color": {"datum": "melt_1", "scale": {"domain": ["melt_1", "melt_2"], "range": ["#e0262b", "#27247c"]}, "legend": {"title": "CS", "legendX": 59, "legendY": 125, "symbolSize": 676, "encode": {"symbols": {"update": {"strokeWidth": {"value": 9}, "opacity": {"value": 1}, "strokeCap": {"value": "butt"}}}}}}
    }},
   {"data": {"name": "melt_2"}, "mark": {"type": "line", "strokeWidth": 1, "opacity": 0.62},
    "encoding": {"x": {"field": "T", "type": "quantitative"}, "y": {"field": "v", "type": "quantitative"}, "color": {"datum": "melt_2"}}},
   {"data": {"name": "markers"}, "transform": [{"filter": "datum.p=='a' && datum.k!='Ms'"}],
    "mark": {"type": "point", "shape": "M-0.95,-1L0.95,-1L0,1Z", "size": 441, "strokeWidth": 2.4, "opacity": 1, "filled": true},
    "encoding": {"x": {"field": "T", "type": "quantitative"}, "y": {"field": "v", "type": "quantitative"},
     "fill": {"field": "k", "type": "nominal", "scale": {"domain": ["FPs","FPf","Bs","Bf","Ms"], "range": ["#dedede","#d0d0d0","#151515","#3a3a3a","#c6c6c6"]}, "legend": null},
     "stroke": {"field": "m", "type": "nominal", "scale": {"domain": ["melt_1","melt_2","melt_3","melt_4","melt_5","melt_6","melt_7","melt_8"], "range": ["#e0262b","#27247c","#e0262b","#27247c","#e0262b","#27247c","#e0262b","#27247c"]}, "legend": null}}},
   {"data": {"name": "markers"}, "transform": [{"filter": "datum.p=='a' && datum.k=='FPf'"}],
    "mark": {"type": "point", "shape": "M-0.54,-0.61L-0.38,-0.77M-0.43,-0.37L-0.03,-0.77M-0.32,-0.13L0.32,-0.77M-0.2,0.1L0.58,-0.68M-0.09,0.34L0.26,-0.01", "size": 441, "strokeWidth": 1.1, "stroke": "#505050", "filled": false, "opacity": 1},
    "encoding": {"x": {"field": "T", "type": "quantitative"}, "y": {"field": "v", "type": "quantitative"}}}
  ]
 },
 {
  "width": 442, "height": 246,
  "title": {"text": "b)", "dy": 6},
  "layer": [
   {"data": {"name": "melt_3"}, "mark": {"type": "line", "strokeWidth": 1, "opacity": 0.72},
    "encoding": {
     "x": {"field": "T", "type": "quantitative", "scale": {"domain": [200, 900], "nice": false}, "axis": {"values": [200,250,300,350,400,450,500,550,600,650,700,750,800,850,900], "labelExpr": "datum.value % 100 == 0 ? datum.label : ''", "title": "T, °C"}},
     "y": {"field": "v", "type": "quantitative", "scale": {"domain": [-4e-5, 4e-5], "nice": false, "zero": false}, "axis": {"values": [-4e-5, -3e-5, -2e-5, -1e-5, 0, 1e-5, 2e-5, 3e-5, 4e-5], "labelExpr": "replace(replace(replace(format(datum.value, '.1e'), regexp('−', 'g'), '-'), '.', ','), regexp('e([+-])([0-9])$'), 'E$10$2')", "title": "TEC α, K⁻¹"}},
     "color": {"datum": "melt_3", "scale": {"domain": ["melt_3", "melt_4"], "range": ["#e0262b", "#27247c"]}, "legend": {"title": "Cr", "legendX": 333, "legendY": 125, "symbolSize": 676, "encode": {"symbols": {"update": {"strokeWidth": {"value": 9}, "opacity": {"value": 1}, "strokeCap": {"value": "butt"}}}}}}
    }},
   {"data": {"name": "melt_4"}, "mark": {"type": "line", "strokeWidth": 1, "opacity": 0.62},
    "encoding": {"x": {"field": "T", "type": "quantitative"}, "y": {"field": "v", "type": "quantitative"}, "color": {"datum": "melt_4"}}},
   {"data": {"name": "markers"}, "transform": [{"filter": "datum.p=='b' && datum.k!='Ms'"}],
    "mark": {"type": "point", "shape": "M-0.95,-1L0.95,-1L0,1Z", "size": 441, "strokeWidth": 2.4, "opacity": 1, "filled": true},
    "encoding": {"x": {"field": "T", "type": "quantitative"}, "y": {"field": "v", "type": "quantitative"},
     "fill": {"field": "k", "type": "nominal", "scale": {"domain": ["FPs","FPf","Bs","Bf","Ms"], "range": ["#dedede","#d0d0d0","#151515","#3a3a3a","#c6c6c6"]}, "legend": null},
     "stroke": {"field": "m", "type": "nominal", "scale": {"domain": ["melt_1","melt_2","melt_3","melt_4","melt_5","melt_6","melt_7","melt_8"], "range": ["#e0262b","#27247c","#e0262b","#27247c","#e0262b","#27247c","#e0262b","#27247c"]}, "legend": null}}},
   {"data": {"name": "markers"}, "transform": [{"filter": "datum.p=='b' && datum.k=='Ms'"}],
    "mark": {"type": "point", "shape": "circle", "size": 290, "strokeWidth": 2.4, "opacity": 1, "filled": true},
    "encoding": {"x": {"field": "T", "type": "quantitative"}, "y": {"field": "v", "type": "quantitative"},
     "fill": {"field": "k", "type": "nominal", "legend": null},
     "stroke": {"field": "m", "type": "nominal", "legend": null}}},
   {"data": {"name": "markers"}, "transform": [{"filter": "datum.p=='b' && datum.k=='Bf'"}],
    "mark": {"type": "point", "shape": "M0.54,-0.61L0.38,-0.77M0.43,-0.37L0.03,-0.77M0.32,-0.13L-0.32,-0.77M0.2,0.1L-0.58,-0.68M0.09,0.34L-0.26,-0.01", "size": 441, "strokeWidth": 1.1, "stroke": "#a8a8a8", "filled": false, "opacity": 1},
    "encoding": {"x": {"field": "T", "type": "quantitative"}, "y": {"field": "v", "type": "quantitative"}}}
  ]
 },
 {
  "width": 442, "height": 246,
  "title": {"text": "c)", "dy": -3},
  "layer": [
   {"data": {"name": "melt_5"}, "mark": {"type": "line", "strokeWidth": 1, "opacity": 0.72},
    "encoding": {
     "x": {"field": "T", "type": "quantitative", "scale": {"domain": [200, 900], "nice": false}, "axis": {"values": [200,250,300,350,400,450,500,550,600,650,700,750,800,850,900], "labelExpr": "datum.value % 100 == 0 ? datum.label : ''", "title": "T, °C"}},
     "y": {"field": "v", "type": "quantitative", "scale": {"domain": [-8e-5, 4e-5], "nice": false, "zero": false}, "axis": {"values": [-8e-5, -6e-5, -4e-5, -2e-5, 0, 2e-5, 4e-5], "labelExpr": "replace(replace(replace(format(datum.value, '.1e'), regexp('−', 'g'), '-'), '.', ','), regexp('e([+-])([0-9])$'), 'E$10$2')", "title": "TEC α, K⁻¹"}},
     "color": {"datum": "melt_5", "scale": {"domain": ["melt_5", "melt_6"], "range": ["#e0262b", "#27247c"]}, "legend": {"title": "Cr+V", "legendX": 322, "legendY": 128, "symbolSize": 676, "encode": {"symbols": {"update": {"strokeWidth": {"value": 9}, "opacity": {"value": 1}, "strokeCap": {"value": "butt"}}}}}}
    }},
   {"data": {"name": "melt_6"}, "mark": {"type": "line", "strokeWidth": 1, "opacity": 0.62},
    "encoding": {"x": {"field": "T", "type": "quantitative"}, "y": {"field": "v", "type": "quantitative"}, "color": {"datum": "melt_6"}}},
   {"data": {"name": "markers"}, "transform": [{"filter": "datum.p=='c' && datum.k!='Ms'"}],
    "mark": {"type": "point", "shape": "M-0.95,-1L0.95,-1L0,1Z", "size": 441, "strokeWidth": 2.4, "opacity": 1, "filled": true},
    "encoding": {"x": {"field": "T", "type": "quantitative"}, "y": {"field": "v", "type": "quantitative"},
     "fill": {"field": "k", "type": "nominal", "scale": {"domain": ["FPs","FPf","Bs","Bf","Ms"], "range": ["#dedede","#d0d0d0","#151515","#3a3a3a","#c6c6c6"]}, "legend": null},
     "stroke": {"field": "m", "type": "nominal", "scale": {"domain": ["melt_1","melt_2","melt_3","melt_4","melt_5","melt_6","melt_7","melt_8"], "range": ["#e0262b","#27247c","#e0262b","#27247c","#e0262b","#27247c","#e0262b","#27247c"]}, "legend": null}}},
   {"data": {"name": "markers"}, "transform": [{"filter": "datum.p=='c' && datum.k=='FPf'"}],
    "mark": {"type": "point", "shape": "M-0.54,-0.61L-0.38,-0.77M-0.43,-0.37L-0.03,-0.77M-0.32,-0.13L0.32,-0.77M-0.2,0.1L0.58,-0.68M-0.09,0.34L0.26,-0.01", "size": 441, "strokeWidth": 1.1, "stroke": "#505050", "filled": false, "opacity": 1},
    "encoding": {"x": {"field": "T", "type": "quantitative"}, "y": {"field": "v", "type": "quantitative"}}},
   {"data": {"name": "markers"}, "transform": [{"filter": "datum.p=='c' && datum.k=='Bf'"}],
    "mark": {"type": "point", "shape": "M0.54,-0.61L0.38,-0.77M0.43,-0.37L0.03,-0.77M0.32,-0.13L-0.32,-0.77M0.2,0.1L-0.58,-0.68M0.09,0.34L-0.26,-0.01", "size": 441, "strokeWidth": 1.1, "stroke": "#a8a8a8", "filled": false, "opacity": 1},
    "encoding": {"x": {"field": "T", "type": "quantitative"}, "y": {"field": "v", "type": "quantitative"}}}
  ]
 },
 {
  "width": 442, "height": 246,
  "title": {"text": "d)", "dy": -1},
  "layer": [
   {"data": {"name": "melt_7"}, "mark": {"type": "line", "strokeWidth": 1, "opacity": 0.72},
    "encoding": {
     "x": {"field": "T", "type": "quantitative", "scale": {"domain": [200, 900], "nice": false}, "axis": {"values": [200,250,300,350,400,450,500,550,600,650,700,750,800,850,900], "labelExpr": "datum.value % 100 == 0 ? datum.label : ''", "title": "T, °C"}},
     "y": {"field": "v", "type": "quantitative", "scale": {"domain": [-4e-5, 4e-5], "nice": false, "zero": false}, "axis": {"values": [-4e-5, -3e-5, -2e-5, -1e-5, 0, 1e-5, 2e-5, 3e-5, 4e-5], "labelExpr": "replace(replace(replace(format(datum.value, '.1e'), regexp('−', 'g'), '-'), '.', ','), regexp('e([+-])([0-9])$'), 'E$10$2')", "title": "TEC α, K⁻¹"}},
     "color": {"datum": "melt_7", "scale": {"domain": ["melt_7", "melt_8"], "range": ["#e0262b", "#27247c"]}, "legend": {"title": "Cr+Ti", "legendX": 333, "legendY": 129, "symbolSize": 676, "encode": {"symbols": {"update": {"strokeWidth": {"value": 9}, "opacity": {"value": 1}, "strokeCap": {"value": "butt"}}}}}}
    }},
   {"data": {"name": "melt_8"}, "mark": {"type": "line", "strokeWidth": 1, "opacity": 0.62},
    "encoding": {"x": {"field": "T", "type": "quantitative"}, "y": {"field": "v", "type": "quantitative"}, "color": {"datum": "melt_8"}}},
   {"data": {"name": "markers"}, "transform": [{"filter": "datum.p=='d' && datum.k!='Ms'"}],
    "mark": {"type": "point", "shape": "M-0.95,-1L0.95,-1L0,1Z", "size": 441, "strokeWidth": 2.4, "opacity": 1, "filled": true},
    "encoding": {"x": {"field": "T", "type": "quantitative"}, "y": {"field": "v", "type": "quantitative"},
     "fill": {"field": "k", "type": "nominal", "scale": {"domain": ["FPs","FPf","Bs","Bf","Ms"], "range": ["#dedede","#d0d0d0","#151515","#3a3a3a","#c6c6c6"]}, "legend": null},
     "stroke": {"field": "m", "type": "nominal", "scale": {"domain": ["melt_1","melt_2","melt_3","melt_4","melt_5","melt_6","melt_7","melt_8"], "range": ["#e0262b","#27247c","#e0262b","#27247c","#e0262b","#27247c","#e0262b","#27247c"]}, "legend": null}}},
   {"data": {"name": "markers"}, "transform": [{"filter": "datum.p=='d' && datum.k=='Ms'"}],
    "mark": {"type": "point", "shape": "circle", "size": 290, "strokeWidth": 2.4, "opacity": 1, "filled": true},
    "encoding": {"x": {"field": "T", "type": "quantitative"}, "y": {"field": "v", "type": "quantitative"},
     "fill": {"field": "k", "type": "nominal", "legend": null},
     "stroke": {"field": "m", "type": "nominal", "legend": null}}},
   {"data": {"name": "markers"}, "transform": [{"filter": "datum.p=='d' && datum.k=='FPf'"}],
    "mark": {"type": "point", "shape": "M-0.54,-0.61L-0.38,-0.77M-0.43,-0.37L-0.03,-0.77M-0.32,-0.13L0.32,-0.77M-0.2,0.1L0.58,-0.68M-0.09,0.34L0.26,-0.01", "size": 441, "strokeWidth": 1.1, "stroke": "#505050", "filled": false, "opacity": 1},
    "encoding": {"x": {"field": "T", "type": "quantitative"}, "y": {"field": "v", "type": "quantitative"}}},
   {"data": {"name": "markers"}, "transform": [{"filter": "datum.p=='d' && datum.k=='Bf'"}],
    "mark": {"type": "point", "shape": "M0.54,-0.61L0.38,-0.77M0.43,-0.37L0.03,-0.77M0.32,-0.13L-0.32,-0.77M0.2,0.1L-0.58,-0.68M0.09,0.34L-0.26,-0.01", "size": 441, "strokeWidth": 1.1, "stroke": "#a8a8a8", "filled": false, "opacity": 1},
    "encoding": {"x": {"field": "T", "type": "quantitative"}, "y": {"field": "v", "type": "quantitative"}}}
  ]
 }
 ]
},
{
 "width": 1240, "height": 215,
 "view": {"stroke": null},
 "data": {"name": "legend"},
 "encoding": {"x": {"field": "col", "type": "nominal", "scale": {"type": "point", "domain": ["L", "R"], "range": [-83, 553], "padding": 0}, "axis": null}},
 "layer": [
  {
   "transform": [{"filter": "datum.col=='L'"}],
   "encoding": {"y": {"field": "row", "type": "ordinal", "scale": {"type": "point", "domain": [1, 2, 3], "range": [41, 165], "padding": 0}, "axis": null}},
   "layer": [
    {"transform": [{"filter": "datum.k!='Ms'"}], "mark": {"type": "point", "shape": "M-0.95,-1L0.95,-1L0,1Z", "size": 1600, "strokeWidth": 1.5, "stroke": "#2a2a2a", "opacity": 1, "filled": true, "yOffset": 8},
     "encoding": {"fill": {"field": "k", "type": "nominal", "scale": {"domain": ["FPs","FPf","Bs","Bf","Ms","withB","withoutB"], "range": ["#dedede","#d0d0d0","#151515","#3a3a3a","#c6c6c6","#e0262b","#27247c"]}, "legend": null}}},
    {"transform": [{"filter": "datum.k=='Ms'"}], "mark": {"type": "point", "shape": "circle", "size": 700, "strokeWidth": 1.5, "stroke": "#2a2a2a", "opacity": 1, "filled": true, "yOffset": 4},
     "encoding": {"fill": {"field": "k", "type": "nominal", "legend": null}}},
    {"mark": {"type": "text", "align": "left", "baseline": "middle", "dx": 46, "fontSize": 26, "font": "DejaVu Sans", "color": "#1a1a1a"},
     "encoding": {"text": {"field": "label"}}}
   ]
  },
  {
   "transform": [{"filter": "datum.col=='R'"}],
   "encoding": {"y": {"field": "row", "type": "ordinal", "scale": {"type": "point", "domain": [1, 2, 3, 4], "range": [37, 209], "padding": 0}, "axis": null}},
   "layer": [
    {"transform": [{"filter": "datum.k=='FPf' || datum.k=='Bf'"}], "mark": {"type": "point", "shape": "M-0.95,-1L0.95,-1L0,1Z", "size": 1600, "strokeWidth": 1.5, "stroke": "#2a2a2a", "opacity": 1, "filled": true, "yOffset": 7},
     "encoding": {"fill": {"field": "k", "type": "nominal", "legend": null}}},
    {"transform": [{"filter": "datum.k=='FPf'"}], "mark": {"type": "point", "shape": "M-0.54,-0.61L-0.38,-0.77M-0.43,-0.37L-0.03,-0.77M-0.32,-0.13L0.32,-0.77M-0.2,0.1L0.58,-0.68M-0.09,0.34L0.26,-0.01", "size": 1600, "strokeWidth": 1.4, "stroke": "#606060", "filled": false, "opacity": 1, "yOffset": 7}},
    {"transform": [{"filter": "datum.k=='Bf'"}], "mark": {"type": "point", "shape": "M0.54,-0.61L0.38,-0.77M0.43,-0.37L0.03,-0.77M0.32,-0.13L-0.32,-0.77M0.2,0.1L-0.58,-0.68M0.09,0.34L-0.26,-0.01", "size": 1600, "strokeWidth": 1.4, "stroke": "#a0a0a0", "filled": false, "opacity": 1, "yOffset": 7}},
    {"transform": [{"filter": "datum.k=='withB' || datum.k=='withoutB'"}], "mark": {"type": "point", "shape": "M-1,-0.33L1,-0.33L1,0.33L-1,0.33Z", "size": 576, "strokeWidth": 0, "opacity": 1, "filled": true, "yOffset": 2},
     "encoding": {"fill": {"field": "k", "type": "nominal", "legend": null}}},
    {"mark": {"type": "text", "align": "left", "baseline": "middle", "dx": 46, "fontSize": 26, "font": "DejaVu Sans", "color": "#1a1a1a"},
     "encoding": {"text": {"field": "label"}}},
    {"transform": [{"filter": "datum.k=='FPf'"}], "mark": {"type": "text", "align": "left", "baseline": "middle", "dx": 583, "dy": 8, "fontSize": 16, "font": "DejaVu Sans", "color": "#1a1a1a"},
     "encoding": {"text": {"field": "sub"}}},
    {"transform": [{"filter": "datum.k=='FPf'"}], "mark": {"type": "text", "align": "left", "baseline": "middle", "dx": 589, "fontSize": 26, "font": "DejaVu Sans", "color": "#1a1a1a", "text": ")"}},
    {"transform": [{"filter": "datum.k=='Bf'"}], "mark": {"type": "text", "align": "left", "baseline": "middle", "dx": 425, "dy": 8, "fontSize": 16, "font": "DejaVu Sans", "color": "#1a1a1a"},
     "encoding": {"text": {"field": "sub"}}},
    {"transform": [{"filter": "datum.k=='Bf'"}], "mark": {"type": "text", "align": "left", "baseline": "middle", "dx": 432, "fontSize": 26, "font": "DejaVu Sans", "color": "#1a1a1a", "text": ")"}}
   ]
  }
 ],
 "resolve": {"scale": {"y": "independent"}}
}
]
}
